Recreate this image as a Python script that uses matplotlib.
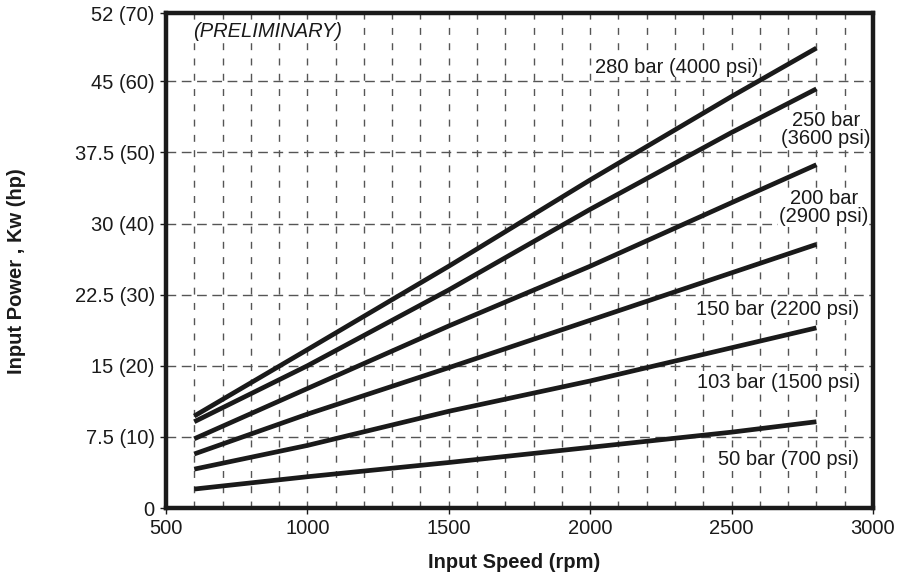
import numpy as np
import matplotlib
matplotlib.use("Agg")
import matplotlib.pyplot as plt

plt.rcParams["font.family"] = ["Liberation Sans", "DejaVu Sans"]

# ===== data =====
rpm = [600, 1000, 1500, 2000, 2500, 2800]
kw_280 = [9.7, 16.7, 25.5, 34.6, 43.4, 48.5]
kw_250 = [9.1, 15.0, 23.0, 31.5, 39.6, 44.2]
kw_200 = [7.3, 12.6, 19.2, 25.5, 32.2, 36.2]
kw_150 = [5.7, 9.9, 14.8, 19.8, 24.8, 27.8]
kw_103 = [4.1, 6.6, 10.2, 13.4, 16.9, 19.0]
kw_50 = [2.0, 3.3, 4.8, 6.4, 8.0, 9.1]

series = [kw_280, kw_250, kw_200, kw_150, kw_103, kw_50]
labels = ["280 bar (4000 psi)", "250 bar\n(3600 psi)", "200 bar\n(2900 psi)",
          "150 bar (2200 psi)", "103 bar (1500 psi)", "50 bar (700 psi)"]

x_ticks = [500, 1000, 1500, 2000, 2500, 3000]
y_ticks = [0, 7.5, 15, 22.5, 30, 37.5, 45, 52.2]
y_ticklabels = ["0", "7.5 (10)", "15 (20)", "22.5 (30)", "30 (40)", "37.5 (50)", "45 (60)", "52 (70)"]

ink = "#1a1a1a"
grid_c = "#555555"

fig = plt.figure(figsize=(9, 5.83), dpi=100)
ax = fig.add_axes([0.1844, 0.1286, 0.7856, 0.8491])
ax.set_xlim(500, 3000)
ax.set_ylim(0, 52.2)

# grid: vertical every 100 rpm, horizontal every 7.5 kW
for xv in range(600, 3000, 100):
    ax.axvline(xv, color=grid_c, lw=1.0, dashes=(5, 6), zorder=1)
for yv in [7.5, 15, 22.5, 30, 37.5, 45]:
    ax.axhline(yv, color=grid_c, lw=1.0, dashes=(7, 4), zorder=1)

for ys in series:
    ax.plot(rpm, ys, color=ink, lw=3.4, solid_capstyle="butt", solid_joinstyle="round", zorder=3)

# curve labels
box = dict(facecolor="white", edgecolor="none", pad=0.5)
fs = 14.5
ax.text(2596, 46.5, labels[0], ha="right", va="center", fontsize=fs, color=ink, bbox=box, zorder=2)
ax.text(2833, 39.9, labels[1], ha="center", va="center", fontsize=fs, color=ink,
        linespacing=0.95, bbox=box, zorder=2)
ax.text(2826, 31.7, labels[2], ha="center", va="center", fontsize=fs, color=ink,
        linespacing=0.95, bbox=box, zorder=2)
ax.text(2950, 20.9, labels[3], ha="right", va="center", fontsize=fs, color=ink, bbox=box, zorder=2)
ax.text(2954, 13.2, labels[4], ha="right", va="center", fontsize=fs, color=ink, bbox=box, zorder=2)
ax.text(2950, 5.1, labels[5], ha="right", va="center", fontsize=fs, color=ink, bbox=box, zorder=2)

ax.text(596, 50.2, "(PRELIMINARY)", ha="left", va="center", fontsize=fs, style="italic",
        color=ink, bbox=dict(facecolor="white", edgecolor="none", pad=1), zorder=2)

ax.set_xticks(x_ticks)
ax.set_xticklabels([str(v) for v in x_ticks])
ax.set_yticks(y_ticks)
ax.set_yticklabels(y_ticklabels)
ax.tick_params(axis="both", direction="out", length=4, width=1, colors=ink,
               labelsize=14.5, pad=4)

for sp in ax.spines.values():
    sp.set_linewidth(3.2)
    sp.set_color(ink)

ax.set_xlabel("Input Speed (rpm)", fontsize=14.5, fontweight="bold", color=ink)
ax.set_ylabel("Input Power , Kw (hp)", fontsize=14.5, fontweight="bold", color=ink)
ax.xaxis.set_label_coords(0.492, -0.09)
ax.yaxis.set_label_coords(-0.198, 0.478)

fig.savefig("out.png", dpi=100)
